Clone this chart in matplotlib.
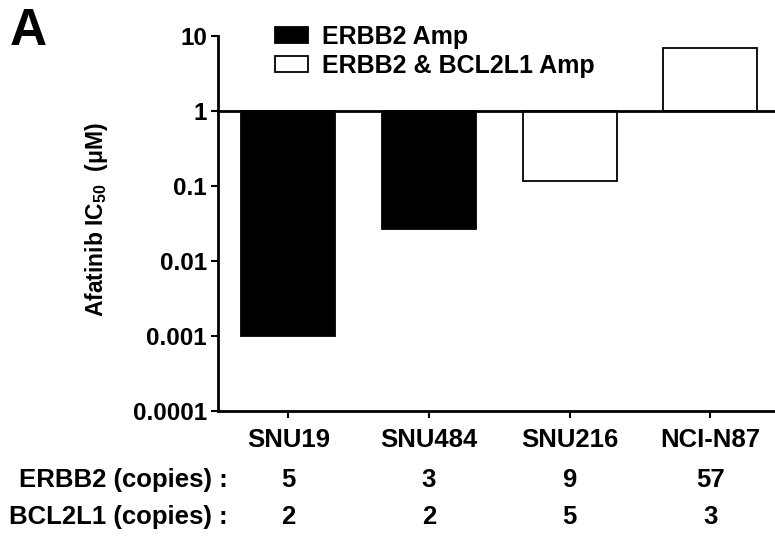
import numpy as np
import matplotlib
matplotlib.use('Agg')
import matplotlib.pyplot as plt
import matplotlib.transforms as mtransforms
from matplotlib.patches import Patch

plt.rcParams['font.family'] = ['Liberation Sans', 'DejaVu Sans']
plt.rcParams['font.weight'] = 'bold'
plt.rcParams['mathtext.fontset'] = 'custom'
plt.rcParams['mathtext.rm'] = 'Liberation Sans:bold'
plt.rcParams['mathtext.bf'] = 'Liberation Sans:bold'

# data
cell_lines = ['SNU19', 'SNU484', 'SNU216', 'NCI-N87']
ic50 = [0.001, 0.0265, 0.117, 6.9]          # uM
bcl2l1_amp = [False, False, True, True]
erbb2_copies = ['5', '3', '9', '57']
bcl2l1_copies = ['2', '2', '5', '3']
ytick_vals = [0.0001, 0.001, 0.01, 0.1, 1, 10]
ytick_labels = ['0.0001', '0.001', '0.01', '0.1', '1', '10']

W, H = 775, 539
fig = plt.figure(figsize=(W / 100, H / 100), dpi=100)
ax = fig.add_axes([218 / W, 1 - 411 / H, (775 - 218) / W, (411 - 36) / H])

x = np.arange(len(cell_lines))
colors = ['white' if b else 'black' for b in bcl2l1_amp]
heights = np.array(ic50) - 1
ax.bar(x, heights, bottom=1, width=0.67, color=colors, edgecolor='black', linewidth=1.3, zorder=2)
ax.axhline(1, color='black', linewidth=2, zorder=3)

ax.set_yscale('log')
ax.set_ylim(0.0001, 10)
ax.set_xlim(-0.5, 3.46)
ax.set_yticks(ytick_vals)
ax.set_yticklabels(ytick_labels)
ax.yaxis.set_minor_locator(matplotlib.ticker.NullLocator())
ax.set_xticks(x)
ax.set_xticklabels(cell_lines)

for s in ['top', 'right']:
    ax.spines[s].set_visible(False)
for s in ['left', 'bottom']:
    ax.spines[s].set_linewidth(2)
ax.tick_params(axis='both', length=5, width=1.5)
ax.tick_params(axis='y', pad=3, labelsize=17.5)
ax.tick_params(axis='x', pad=7, labelsize=18.5)
for lbl in ax.get_xticklabels() + ax.get_yticklabels():
    lbl.set_fontweight('bold')

fig.text(97 / W, 1 - 220 / H, r'Afatinib IC$_\mathrm{50}$  (μM)', rotation=90,
         ha='center', va='center', fontsize=16.5, fontweight='bold')

fig.text(10 / W, 1 - 45 / H, 'A', ha='left', va='baseline', fontsize=37, fontweight='bold')

# copy-number rows under the axis
trans = mtransforms.blended_transform_factory(ax.transData, fig.transFigure)
fig.text(228 / W, 1 - 480 / H, 'ERBB2 (copies) :', ha='right', va='center', fontsize=18.5, fontweight='bold')
fig.text(228 / W, 1 - 517 / H, 'BCL2L1 (copies) :', ha='right', va='center', fontsize=18.5, fontweight='bold')
for i in range(len(cell_lines)):
    ax.text(x[i], 1 - 480 / H, erbb2_copies[i], transform=trans, ha='center', va='center',
            fontsize=18.5, fontweight='bold')
    ax.text(x[i], 1 - 517 / H, bcl2l1_copies[i], transform=trans, ha='center', va='center',
            fontsize=18.5, fontweight='bold')

handles = [Patch(facecolor='black', edgecolor='black', linewidth=1.3, label='ERBB2 Amp'),
           Patch(facecolor='white', edgecolor='black', linewidth=1.3, label='ERBB2 & BCL2L1 Amp')]
fig.legend(handles=handles, loc='upper left', bbox_to_anchor=(275 / W, 1 - 25 / H),
           frameon=False, borderpad=0, borderaxespad=0, handlelength=1.3, handleheight=0.6,
           handletextpad=0.6, labelspacing=0.2, prop={'size': 18, 'weight': 'bold'})

fig.savefig('out.png', dpi=100)
